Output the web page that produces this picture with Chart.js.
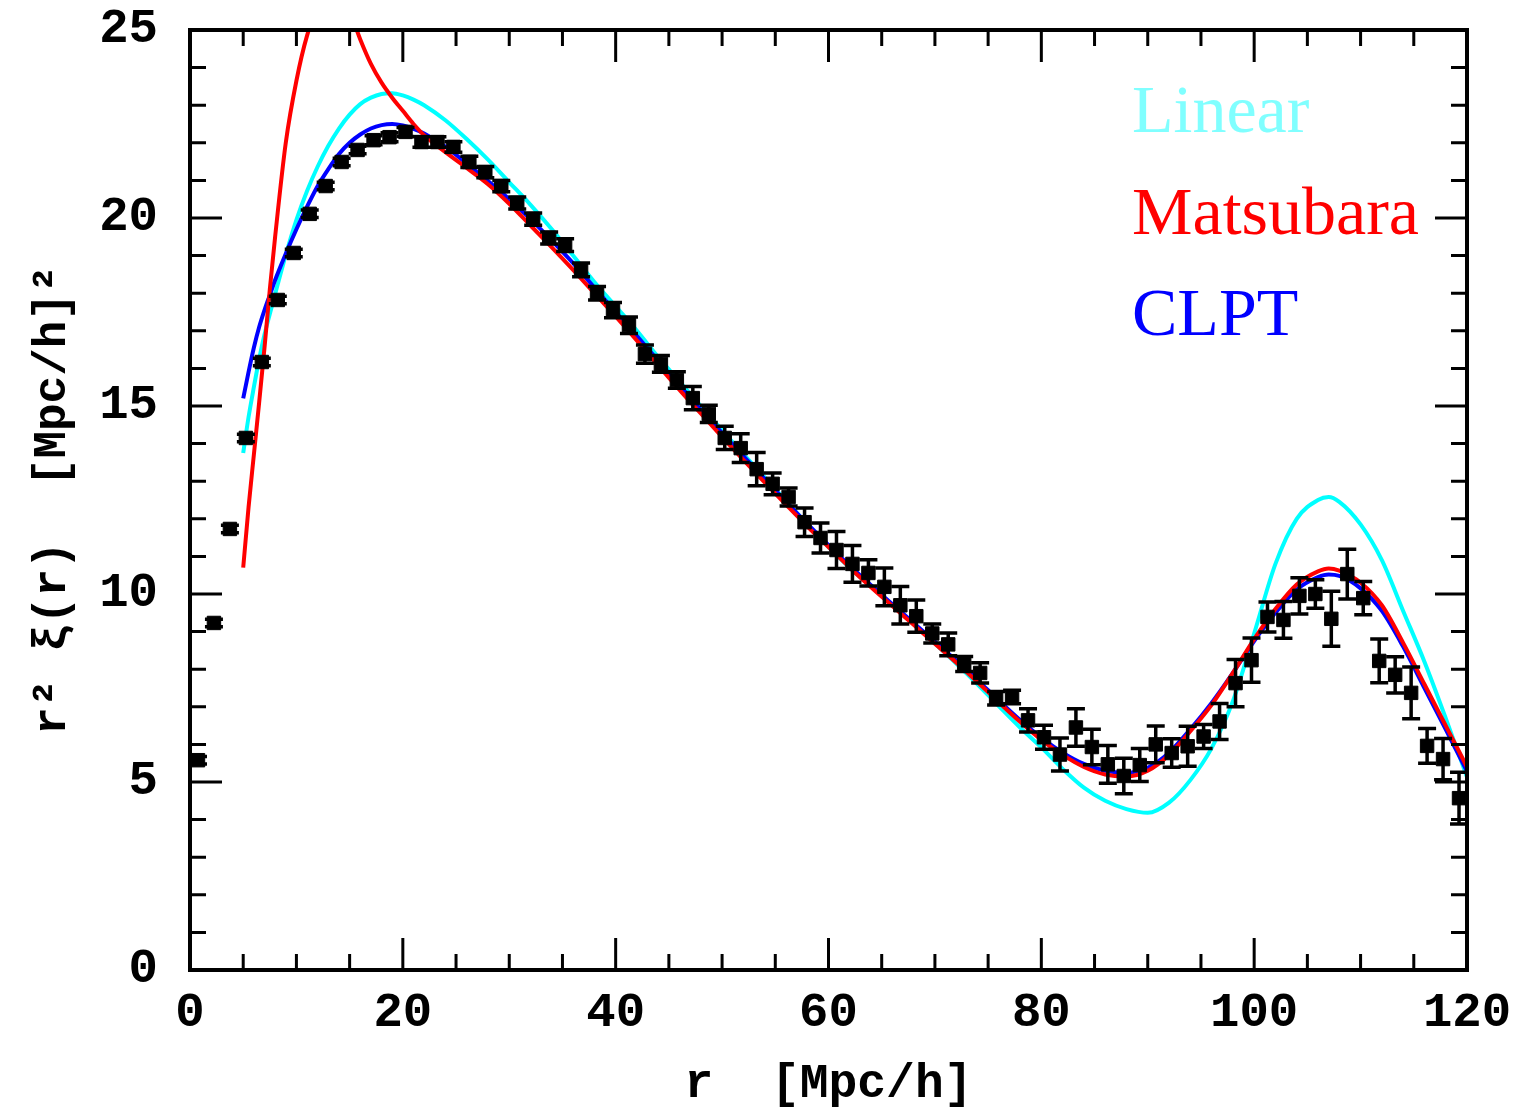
<!DOCTYPE html>
<html>
<head>
<meta charset="utf-8">
<title>r^2 xi(r)</title>
<script src="https://cdn.jsdelivr.net/npm/chart.js@4.4.1/dist/chart.umd.min.js"></script>
<style>
  html, body { margin: 0; padding: 0; background: #fff; }
  canvas { display: block; }
</style>
</head>
<body>
<canvas id="xiChart" width="1522" height="1116"></canvas>
<script>
// measured correlation function, bin centres in Mpc/h
const rData = [0.75, 2.25, 3.75, 5.25, 6.75, 8.25, 9.75, 11.25, 12.75, 14.25,
    15.75, 17.25, 18.75, 20.25, 21.75, 23.25, 24.75, 26.25, 27.75, 29.25,
    30.75, 32.25, 33.75, 35.25, 36.75, 38.25, 39.75, 41.25, 42.75, 44.25,
    45.75, 47.25, 48.75, 50.25, 51.75, 53.25, 54.75, 56.25, 57.75, 59.25,
    60.75, 62.25, 63.75, 65.25, 66.75, 68.25, 69.75, 71.25, 72.75, 74.25,
    75.75, 77.25, 78.75, 80.25, 81.75, 83.25, 84.75, 86.25, 87.75, 89.25,
    90.75, 92.25, 93.75, 95.25, 96.75, 98.25, 99.75, 101.25, 102.75, 104.25,
    105.75, 107.25, 108.75, 110.25, 111.75, 113.25, 114.75, 116.25, 117.75, 119.25];

const xiData = [5.58, 9.23, 11.73, 14.15, 16.17, 17.82, 19.07, 20.11, 20.85, 21.49,
    21.81, 22.07, 22.15, 22.29, 22.02, 22.02, 21.89, 21.49, 21.22, 20.85,
    20.40, 19.97, 19.47, 19.28, 18.62, 18.00, 17.55, 17.15, 16.38, 16.12,
    15.69, 15.21, 14.79, 14.15, 13.88, 13.32, 12.93, 12.58, 11.91, 11.49,
    11.17, 10.80, 10.56, 10.19, 9.70, 9.41, 8.95, 8.66, 8.14, 7.90,
    7.23, 7.26, 6.64, 6.19, 5.73, 6.45, 5.93, 5.47, 5.16, 5.45,
    6.00, 5.77, 5.95, 6.21, 6.61, 7.63, 8.24, 9.39, 9.31, 9.95,
    10.00, 9.34, 10.53, 9.89, 8.22, 7.85, 7.37, 5.96, 5.61, 4.57];

const xiErr = [0.10, 0.10, 0.10, 0.10, 0.10, 0.10, 0.10, 0.10, 0.10, 0.10,
    0.10, 0.12, 0.12, 0.12, 0.14, 0.14, 0.14, 0.15, 0.15, 0.15,
    0.16, 0.16, 0.16, 0.17, 0.18, 0.18, 0.20, 0.22, 0.24, 0.22,
    0.22, 0.31, 0.23, 0.31, 0.38, 0.44, 0.29, 0.24, 0.38, 0.40,
    0.49, 0.49, 0.35, 0.50, 0.50, 0.43, 0.25, 0.30, 0.20, 0.27,
    0.18, 0.18, 0.31, 0.32, 0.44, 0.50, 0.47, 0.50, 0.47, 0.44,
    0.49, 0.38, 0.53, 0.32, 0.48, 0.63, 0.59, 0.40, 0.49, 0.48,
    0.38, 0.73, 0.66, 0.44, 0.58, 0.48, 0.69, 0.46, 0.55, 0.69];

// model curves, sampled on a common r grid
const rModel = [5, 5.5, 6, 6.5, 7, 7.5, 8,
    9, 10, 11, 12, 13, 14, 15, 16, 17, 18, 19, 20, 21, 22,
    24, 26, 28, 30, 32, 34, 36, 38, 40, 42, 44, 46, 48, 50,
    52, 54, 56, 58, 60, 62, 64, 66, 68, 70, 72, 74, 76, 78, 80,
    82, 84, 86, 88, 90, 92, 94, 96, 98, 100, 102, 104, 106, 107, 108,
    110, 112, 114, 116, 118, 120];

const linearModel = [13.75, 14.7, 15.5, 16.25, 16.9, 17.45, 17.98,
    19.02, 19.95, 20.72, 21.37, 21.92, 22.38, 22.75, 23.03, 23.2, 23.3, 23.32, 23.26, 23.15, 23.0,
    22.6, 22.1, 21.55, 20.95, 20.35, 19.7, 19.0, 18.3, 17.65, 17.0, 16.3, 15.65, 15.0, 14.35,
    13.72, 13.1, 12.48, 11.85, 11.25, 10.7, 10.2, 9.7, 9.2, 8.68, 8.15, 7.6, 7.02, 6.45, 5.92,
    5.35, 4.85, 4.5, 4.28, 4.18, 4.45, 5.05, 5.9, 7.15, 8.95, 10.8, 12.0, 12.5, 12.58, 12.45,
    11.85, 10.9, 9.55, 8.2, 6.7, 5.13];

const matsubaraModel = [10.7, 12.3, 13.7, 15.1, 16.55, 18.1, 19.5,
    22.0, 23.65, 24.85, 25.6, 26.0, 26.0, 25.5, 24.75, 24.1, 23.6, 23.2, 22.85, 22.5, 22.2,
    21.75, 21.33, 20.9, 20.38, 19.8, 19.22, 18.62, 18.0, 17.38, 16.74, 16.08, 15.43, 14.8, 14.18,
    13.57, 12.97, 12.38, 11.8, 11.25, 10.7, 10.18, 9.68, 9.18, 8.68, 8.18, 7.66, 7.12, 6.6, 6.12,
    5.72, 5.4, 5.2, 5.15, 5.3, 5.72, 6.35, 7.05, 7.9, 8.8, 9.6, 10.25, 10.6, 10.68, 10.62,
    10.3, 9.7, 8.7, 7.6, 6.5, 5.4];

const clptModel = [15.2, 15.9, 16.55, 17.1, 17.55, 17.95, 18.35,
    19.05, 19.7, 20.3, 20.85, 21.3, 21.7, 22.0, 22.22, 22.38, 22.47, 22.5, 22.46, 22.37, 22.25,
    21.9, 21.45, 20.98, 20.5, 19.97, 19.4, 18.8, 18.15, 17.5, 16.86, 16.2, 15.55, 14.9, 14.28,
    13.67, 13.06, 12.46, 11.87, 11.3, 10.75, 10.23, 9.73, 9.23, 8.73, 8.23, 7.71, 7.17, 6.65, 6.18,
    5.78, 5.48, 5.3, 5.25, 5.38, 5.78, 6.4, 7.1, 7.9, 8.75, 9.5, 10.12, 10.45, 10.52, 10.48,
    10.15, 9.55, 8.6, 7.5, 6.4, 5.28];

const legendNames = ['Linear', 'Matsubara', 'CLPT'];
const legendColors = ['#80ffff', '#ff0000', '#0000ff'];

const axisFont = '"Liberation Mono", "Courier New", monospace';

function toPoints(xs, ys) {
    return xs.map((x, i) => ({ x: x, y: ys[i] }));
}

// error bars drawn from the data through the chart scales
const errorBars = {
    id: 'errorBars',
    afterDatasetsDraw(chart) {
        const { ctx, scales: { x, y } } = chart;
        ctx.save();
        ctx.strokeStyle = '#000';
        ctx.lineWidth = 3.5;
        ctx.beginPath();
        rData.forEach((r, i) => {
            const px = x.getPixelForValue(r);
            const top = y.getPixelForValue(xiData[i] + xiErr[i]);
            const bot = y.getPixelForValue(xiData[i] - xiErr[i]);
            ctx.moveTo(px, top); ctx.lineTo(px, bot);
            ctx.moveTo(px - 9, top); ctx.lineTo(px + 9, top);
            ctx.moveTo(px - 9, bot); ctx.lineTo(px + 9, bot);
        });
        ctx.stroke();
        ctx.restore();
    }
};

// box frame with inward ticks on all four sides, plus the text legend
const frameTicks = {
    id: 'frameTicks',
    afterDraw(chart) {
        const { ctx, chartArea: a, scales: { x, y } } = chart;
        ctx.save();
        ctx.strokeStyle = '#000';
        ctx.lineWidth = 3;
        ctx.beginPath();
        for (let v = 0; v <= 120; v += 5) {
            const px = x.getPixelForValue(v);
            const len = v % 20 === 0 ? 32 : 16;
            ctx.moveTo(px, a.bottom); ctx.lineTo(px, a.bottom - len);
            ctx.moveTo(px, a.top); ctx.lineTo(px, a.top + len);
        }
        for (let v = 0; v <= 25; v += 1) {
            const py = y.getPixelForValue(v);
            const len = v % 5 === 0 ? 32 : 16;
            ctx.moveTo(a.left, py); ctx.lineTo(a.left + len, py);
            ctx.moveTo(a.right, py); ctx.lineTo(a.right - len, py);
        }
        ctx.stroke();
        ctx.lineWidth = 4;
        ctx.strokeRect(a.left, a.top, a.right - a.left, a.bottom - a.top);

        ctx.font = '68px "Liberation Serif", "Times New Roman", serif';
        ctx.textAlign = 'left';
        ctx.textBaseline = 'alphabetic';
        legendNames.forEach((name, i) => {
            ctx.fillStyle = legendColors[i];
            ctx.fillText(name, a.left + 942, a.top + 102 + i * 101.5);
        });
        ctx.restore();
    }
};

new Chart(document.getElementById('xiChart'), {
    type: 'scatter',
    data: {
        datasets: [
            {
                label: 'data',
                data: toPoints(rData, xiData),
                pointStyle: 'rect',
                pointRadius: 9.5,
                pointBackgroundColor: '#000',
                pointBorderColor: '#000',
                pointBorderWidth: 1
            },
            {
                type: 'line',
                label: 'Matsubara',
                data: toPoints(rModel, matsubaraModel),
                borderColor: '#ff0000',
                borderWidth: 4,
                pointRadius: 0,
                cubicInterpolationMode: 'monotone',
                clip: 0
            },
            {
                type: 'line',
                label: 'CLPT',
                data: toPoints(rModel, clptModel),
                borderColor: '#0000ff',
                borderWidth: 4,
                pointRadius: 0,
                cubicInterpolationMode: 'monotone',
                clip: 0
            },
            {
                type: 'line',
                label: 'Linear',
                data: toPoints(rModel, linearModel),
                borderColor: '#00ffff',
                borderWidth: 4,
                pointRadius: 0,
                cubicInterpolationMode: 'monotone',
                clip: 0
            }
        ]
    },
    options: {
        responsive: false,
        animation: false,
        layout: { padding: 0 },
        plugins: {
            legend: { display: false },
            tooltip: { enabled: false }
        },
        scales: {
            x: {
                type: 'linear',
                min: 0,
                max: 120,
                grid: { display: false, drawTicks: false },
                border: { display: false },
                ticks: {
                    stepSize: 20,
                    autoSkip: false,
                    maxRotation: 0,
                    padding: 14,
                    color: '#000',
                    font: { family: axisFont, size: 49, weight: 'bold' }
                },
                title: {
                    display: true,
                    text: 'r  [Mpc/h]',
                    color: '#000',
                    padding: { top: 0, bottom: 2 },
                    font: { family: axisFont, size: 48, weight: 'bold' }
                },
                afterFit(scale) {
                    scale.height = 146;
                    scale.paddingLeft = 0;
                    scale.paddingRight = 55;
                }
            },
            y: {
                min: 0,
                max: 25,
                grid: { display: false, drawTicks: false },
                border: { display: false },
                ticks: {
                    stepSize: 5,
                    padding: 32,
                    color: '#000',
                    font: { family: axisFont, size: 49, weight: 'bold' }
                },
                title: {
                    display: true,
                    text: 'r² ξ(r)  [Mpc/h]²',
                    color: '#000',
                    padding: { top: 26, bottom: 0 },
                    font: { family: axisFont, size: 46, weight: 'bold' }
                },
                afterFit(scale) {
                    scale.width = 190;
                    scale.paddingTop = 30;
                    scale.paddingBottom = 0;
                }
            }
        }
    },
    plugins: [errorBars, frameTicks]
});
</script>
</body>
</html>
